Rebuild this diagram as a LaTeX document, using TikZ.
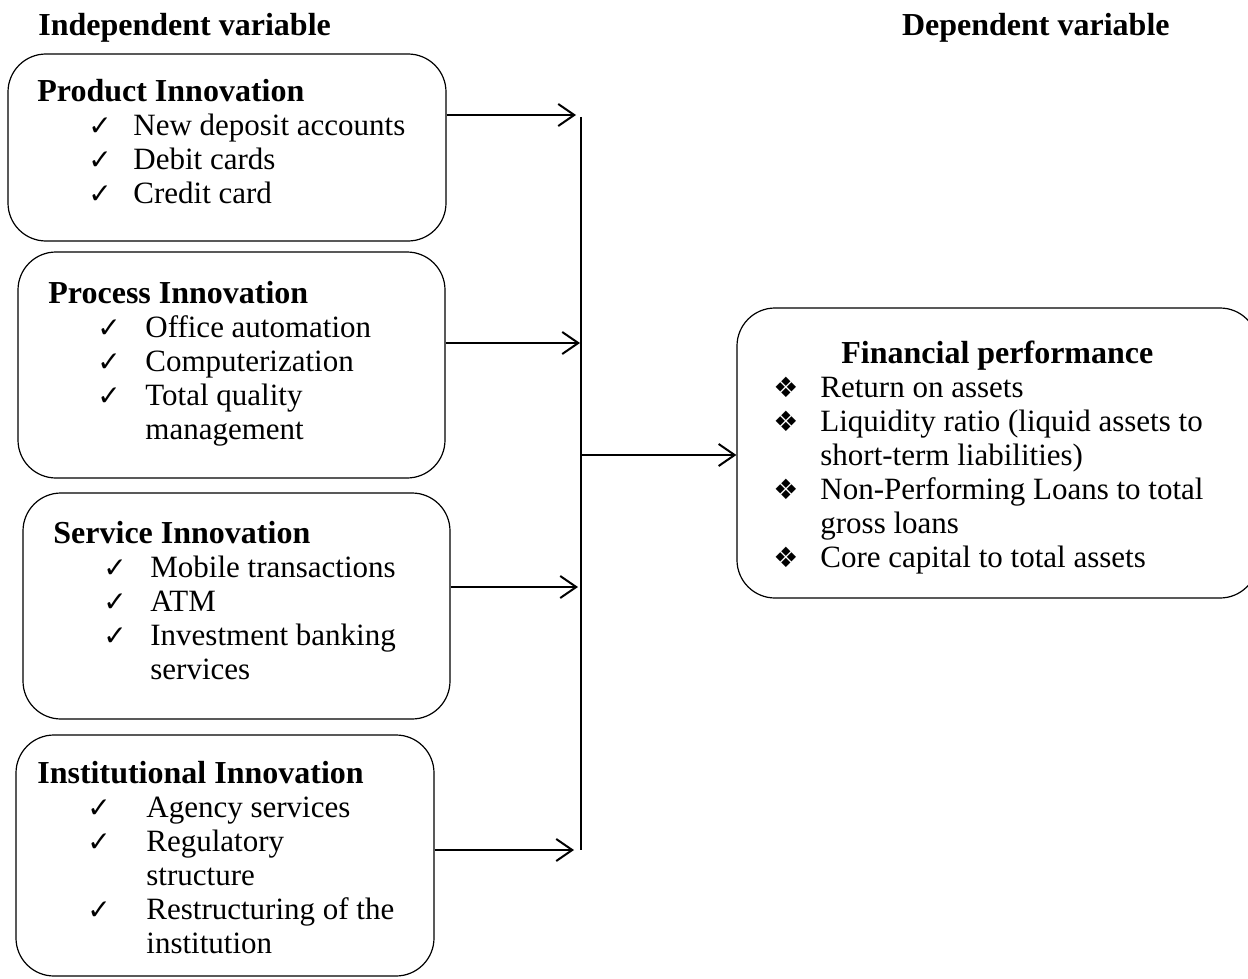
\documentclass[tikz,border=0pt]{standalone}
\usepackage{fontspec}
\setmainfont{Liberation Serif}
\newfontfamily\symfont{DejaVu Sans}
\usetikzlibrary{arrows.meta}

\newcommand{\headfont}{\fontsize{16}{17}\selectfont\bfseries}
\newcommand{\chk}[1][22.5pt]{\makebox[#1][l]{\fontsize{14}{12}\symfont ✓}}
\newcommand{\dia}{\makebox[23.5pt][l]{\fontsize{14}{12}\symfont ❖}}

\begin{document}
\begin{tikzpicture}[x=0.5pt,y=-0.5pt,
    box/.style={draw,rounded corners=19pt,line width=0.6pt},
    txt/.style={anchor=north west,inner sep=0pt,align=left,font=\fontsize{15.5}{17}\selectfont},
    flow/.style={line width=1pt,-{Straight Barb[length=8pt,width=11pt,line width=1pt]}}]
        \useasboundingbox (0,0) rectangle (1248,979);

        % titles
        \node (indep) [anchor=base west,inner sep=0pt,font=\headfont] at (38,36) {Independent variable};
        \node (dep) [anchor=base east,inner sep=0pt,font=\headfont] at (1170,36) {Dependent variable};

        % boxes
        \node (prod) [box,minimum width=219pt,minimum height=93.5pt] at (227,147.5) {};
        \node (proc) [box,minimum width=213.5pt,minimum height=113pt] at (231.5,365) {};
        \node (serv) [box,minimum width=213.5pt,minimum height=113pt] at (236.5,606) {};
        \node (inst) [box,minimum width=209pt,minimum height=120.5pt] at (225,855.5) {};
        \node (fin) [box,minimum width=260.5pt,minimum height=145pt] at (997.5,453) {};

        % box texts
        \node (prodtxt) [txt] at (37,79) {{\headfont Product Innovation}\\
            \hspace*{25.5pt}\chk New deposit accounts\\
            \hspace*{25.5pt}\chk Debit cards\\
            \hspace*{25.5pt}\chk Credit card};
        \node (proctxt) [txt] at (48,281) {{\headfont Process Innovation}\\
            \hspace*{24.5pt}\chk[24pt]Office automation\\
            \hspace*{24.5pt}\chk[24pt]Computerization\\
            \hspace*{24.5pt}\chk[24pt]Total quality\\
            \hspace*{48.5pt}management};
        \node (servtxt) [txt] at (53,521) {{\headfont Service Innovation}\\
            \hspace*{25pt}\chk[23.5pt]Mobile transactions\\
            \hspace*{25pt}\chk[23.5pt]ATM\\
            \hspace*{25pt}\chk[23.5pt]Investment banking\\
            \hspace*{48.5pt}services};
        \node (insttxt) [txt] at (37,761) {{\headfont Institutional Innovation}\\
            \hspace*{25pt}\chk[29.5pt]Agency services\\
            \hspace*{25pt}\chk[29.5pt]Regulatory\\
            \hspace*{54.5pt}structure\\
            \hspace*{25pt}\chk[29.5pt]Restructuring of the\\
            \hspace*{54.5pt}institution};
        \node (fintxt) [txt] at (773,341) {\hspace*{34pt}{\headfont Financial performance}\\
            \dia Return on assets\\
            \dia Liquidity ratio (liquid assets to\\
            \hspace*{23.5pt}short-term liabilities)\\
            \dia Non-Performing Loans to total\\
            \hspace*{23.5pt}gross loans\\
            \dia Core capital to total assets};

        % connectors
        \coordinate (top) at (581,117);
        \coordinate (bot) at (581,850);
        \coordinate (hub) at (581,455);
        \coordinate (in1) at (576,115);
        \coordinate (in2) at (580,343);
        \coordinate (in3) at (578,587);
        \coordinate (in4) at (574,850);

        \draw[line width=1pt] (top) -- (bot);
        \draw[flow] (prod.east |- in1) -- (in1);
        \draw[flow] (proc.east |- in2) -- (in2);
        \draw[flow] (serv.east |- in3) -- (in3);
        \draw[flow] (inst.east |- in4) -- (in4);
        \draw[flow] (hub) -- (hub -| fin.west);
\end{tikzpicture}
\end{document}
